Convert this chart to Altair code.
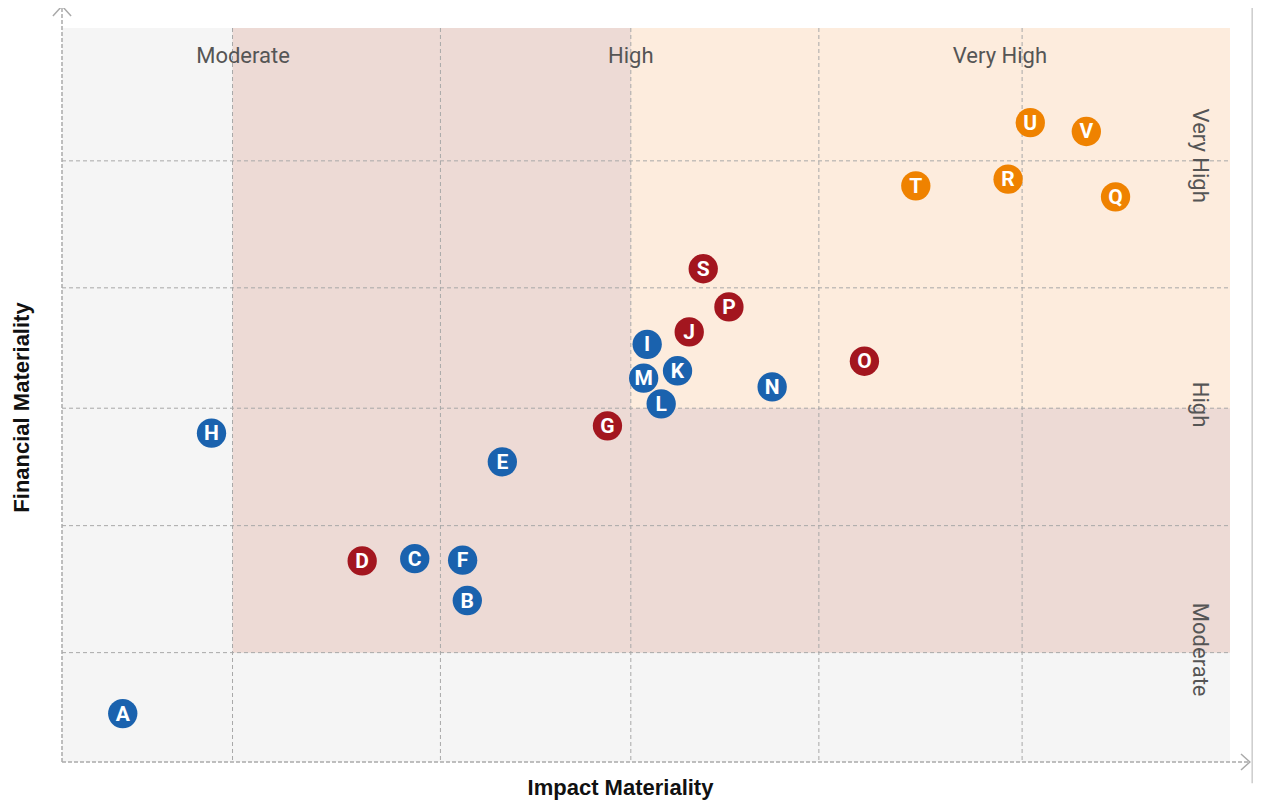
import altair as alt
import pandas as pd

# ---- data ----
labels = list("ABCDEFGHIJKLMNOPQRSTUV")
impact = [0.52, 3.47, 3.02, 2.57, 3.77, 3.43, 4.67, 1.28, 5.01, 5.37, 5.27,
          5.13, 4.98, 6.08, 6.87, 5.71, 9.02, 8.10, 5.49, 7.31, 8.29, 8.77]
financial = [0.66, 2.20, 2.77, 2.74, 4.09, 2.75, 4.58, 4.48, 5.69, 5.86, 5.33,
             4.88, 5.23, 5.11, 5.46, 6.20, 7.70, 7.94, 6.72, 7.85, 8.71, 8.59]
groups = ["blue", "blue", "blue", "red", "blue", "blue", "red", "blue", "blue",
          "red", "blue", "blue", "blue", "blue", "red", "red", "orange",
          "orange", "red", "orange", "orange", "orange"]

group_names = ["blue", "red", "orange"]
group_colors = ["#1a62ae", "#a3161f", "#ef8200"]

x_grid = [1.46, 3.24, 4.87, 6.48, 8.22]
y_grid = [1.49, 3.22, 4.82, 6.46, 8.19]

# background zones
zone_names = ["base", "moderate", "veryhigh"]
zone_x = [0, 1.46, 4.87]
zone_x2 = [10, 10, 10]
zone_y = [0, 1.49, 4.82]
zone_y2 = [10, 10, 10]
zone_colors = ["#f5f5f5", "#eddad5", "#fdecdd"]

# band labels
top_labels = ["Moderate", "High", "Very High"]
top_x = [1.55, 4.87, 8.03]
top_y = [9.52, 9.52, 9.52]
side_labels = ["Very High", "High", "Moderate"]
side_x = [9.74, 9.74, 9.74]
side_y = [8.26, 4.87, 1.53]

# axis arrows extents
axis_start = 0
x_axis_end = 10.17
y_axis_end = 10.30
border_x = 10.19
border_y = [10.4, -0.29]

DOM = [0, 10]
xs = alt.Scale(domain=DOM, nice=False, zero=False)
ys = alt.Scale(domain=DOM, nice=False, zero=False)

pts = pd.DataFrame({"label": labels, "impact": impact,
                    "financial": financial, "group": groups})
zones = pd.DataFrame({"zone": zone_names, "x": zone_x, "x2": zone_x2,
                      "y": zone_y, "y2": zone_y2})
xg = pd.DataFrame({"v": x_grid})
yg = pd.DataFrame({"v": y_grid})
tl = pd.DataFrame({"t": top_labels, "x": top_x, "y": top_y})
sl = pd.DataFrame({"t": side_labels, "x": side_x, "y": side_y})

TF = "Liberation Sans"
x_axis = alt.Axis(title="Impact Materiality", domain=False, ticks=False,
                  labels=False, grid=False, titleFont=TF,
                  titleFontSize=22, titleFontWeight="bold", titleColor="#111",
                  titleX=558, titleY=32, titleBaseline="alphabetic")
y_axis = alt.Axis(title="Financial Materiality", domain=False, ticks=False,
                  labels=False, grid=False, titleFont=TF,
                  titleFontSize=22, titleFontWeight="bold", titleColor="#111",
                  titleX=-34, titleY=379, titleBaseline="alphabetic")

bg = alt.Chart(zones).mark_rect().encode(
    x=alt.X("x:Q", scale=xs, axis=x_axis),
    x2="x2:Q",
    y=alt.Y("y:Q", scale=ys, axis=y_axis),
    y2="y2:Q",
    color=alt.Color("zone:N", scale=alt.Scale(domain=zone_names, range=zone_colors), legend=None),
)

vgrid = alt.Chart(xg).mark_rule(color="#a8a8a8", strokeDash=[4, 3], strokeWidth=1).encode(
    x=alt.X("v:Q", scale=xs), y=alt.value(0), y2=alt.value(734))
hgrid = alt.Chart(yg).mark_rule(color="#a8a8a8", strokeDash=[4, 3], strokeWidth=1).encode(
    y=alt.Y("v:Q", scale=ys), x=alt.value(0), x2=alt.value(1168))

ax_df = pd.DataFrame({"x0": [axis_start], "y0": [axis_start],
                      "xe": [x_axis_end], "ye": [y_axis_end]})
xline = alt.Chart(ax_df).mark_rule(color="#aaaaaa", strokeDash=[4, 2], strokeWidth=1.5).encode(
    x=alt.X("x0:Q", scale=xs), x2="xe:Q", y=alt.Y("y0:Q", scale=ys))
yline = alt.Chart(ax_df).mark_rule(color="#aaaaaa", strokeDash=[4, 2], strokeWidth=1.5).encode(
    y=alt.Y("y0:Q", scale=ys), y2="ye:Q", x=alt.X("x0:Q", scale=xs))
xarrow = alt.Chart(ax_df).mark_point(
    shape="M-1.1,-1L0,0L-1.1,1", size=260, filled=False, color="#aaaaaa",
    strokeWidth=1.5, opacity=1).encode(
    x=alt.X("xe:Q", scale=xs), y=alt.Y("y0:Q", scale=ys))
yarrow = alt.Chart(ax_df).mark_point(
    shape="M-1,1.1L0,0L1,1.1", size=330, filled=False, color="#aaaaaa",
    strokeWidth=1.5, opacity=1).encode(
    x=alt.X("x0:Q", scale=xs), y=alt.Y("ye:Q", scale=ys))

bd_df = pd.DataFrame({"x": [border_x], "y": [border_y[0]], "y2": [border_y[1]]})
border = alt.Chart(bd_df).mark_rule(color="#cccccc", strokeWidth=1.5).encode(
    x=alt.X("x:Q", scale=xs), y=alt.Y("y:Q", scale=ys), y2="y2:Q")

top_text = alt.Chart(tl).mark_text(font="Roboto", fontSize=22, color="#555555",
                                   baseline="alphabetic", align="center").encode(
    x=alt.X("x:Q", scale=xs), y=alt.Y("y:Q", scale=ys), text="t:N")
side_text = alt.Chart(sl).mark_text(font="Roboto", fontSize=22, color="#555555",
                                    baseline="middle", align="center", angle=90).encode(
    x=alt.X("x:Q", scale=xs), y=alt.Y("y:Q", scale=ys), text="t:N")

dots = alt.Chart(pts).mark_circle(size=860, opacity=1).encode(
    x=alt.X("impact:Q", scale=xs),
    y=alt.Y("financial:Q", scale=ys),
    color=alt.Color("group:N", scale=alt.Scale(domain=group_names, range=group_colors), legend=None),
)
letters = alt.Chart(pts).mark_text(font="Roboto", fontSize=21, fontWeight="bold",
                                   color="white", baseline="middle", dy=1).encode(
    x=alt.X("impact:Q", scale=xs),
    y=alt.Y("financial:Q", scale=ys),
    text="label:N",
)

chart = alt.layer(bg, vgrid, hgrid, top_text, side_text, xline, yline, xarrow, yarrow,
                  border, dots, letters).resolve_scale(color="independent").properties(
    width=1168, height=734,
    autosize=alt.AutoSizeParams(type="none"),
    padding={"left": 54, "top": 20, "right": 23, "bottom": 40},
).configure_view(stroke=None)

chart.save("out.html", embed_options={"renderer": "svg", "actions": False})
